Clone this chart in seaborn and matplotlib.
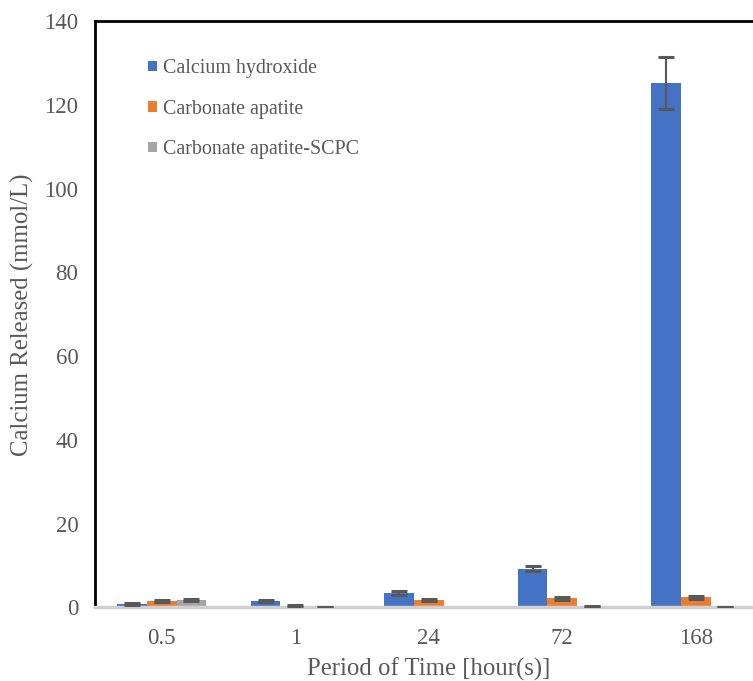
import matplotlib
matplotlib.use("Agg")
import matplotlib.pyplot as plt
import seaborn as sns
import pandas as pd
import numpy as np

categories = ["0.5", "1", "24", "72", "168"]
series = ["Calcium hydroxide", "Carbonate apatite", "Carbonate apatite-SCPC"]
ch_vals = [0.7, 1.45, 3.4, 9.25, 125.2]
ch_err = [0.25, 0.3, 0.4, 0.6, 6.2]
ca_vals = [1.5, 0.3, 1.75, 2.15, 2.45]
ca_err = [0.3, 0.15, 0.3, 0.3, 0.35]
scpc_vals = [1.75, 0.05, 0.0, 0.1, 0.05]
scpc_err = [0.3, 0.08, 0.0, 0.12, 0.06]
colors = ["#4472C4", "#ED7D31", "#A5A5A5"]

rows = []
for s, vals in zip(series, [ch_vals, ca_vals, scpc_vals]):
    for c, v in zip(categories, vals):
        rows.append({"Period": c, "Value": v, "Series": s})
df = pd.DataFrame(rows)

sns.set_theme(style="white")
plt.rcParams["font.family"] = ["Liberation Serif", "DejaVu Serif"]

fig = plt.figure(figsize=(7.53, 6.81), dpi=100)
ax = fig.add_axes([95 / 753, (681 - 607.3) / 681, 667.5 / 753, 586 / 681])

sns.barplot(data=df, x="Period", y="Value", hue="Series", order=categories,
            hue_order=series, palette=colors, width=0.663, gap=0,
            errorbar=None, saturation=1, ax=ax, linewidth=0)

for cont, errs in zip(ax.containers, [ch_err, ca_err, scpc_err]):
    xs = [p.get_x() + p.get_width() / 2 for p in cont.patches]
    hs = [p.get_height() for p in cont.patches]
    xs2 = [x for x, e in zip(xs, errs) if e > 0]
    hs2 = [h for h, e in zip(hs, errs) if e > 0]
    es2 = [e for e in errs if e > 0]
    ax.errorbar(xs2, hs2, yerr=es2, fmt="none", ecolor="#595959",
                elinewidth=1.5, capsize=5.5, capthick=2.2, zorder=5)

ax.set_xlim(-0.5, 4.5)
ax.set_ylim(0, 140)
ax.set_yticks(np.arange(0, 141, 20))
ax.tick_params(axis="both", length=0, labelsize=16.5, labelcolor="#595959")
ax.tick_params(axis="y", pad=12)
ax.tick_params(axis="x", pad=15)

ax.set_xlabel("Period of Time [hour(s)]", fontsize=17.8, color="#595959", labelpad=6)
ax.set_ylabel("Calcium Released (mmol/L)", fontsize=17.8, color="#595959", labelpad=7)

for side in ["left", "top"]:
    ax.spines[side].set_color("black")
    ax.spines[side].set_linewidth(2)
ax.spines["bottom"].set_color("#D0D0D0")
ax.spines["bottom"].set_linewidth(2.5)
ax.spines["right"].set_visible(False)

leg = ax.legend(loc="upper left", bbox_to_anchor=(0.053, 0.966), frameon=False,
                fontsize=14.4, labelcolor="#595959", handlelength=0.45,
                handleheight=0.45, handletextpad=0.3, labelspacing=1.07)

fig.savefig("out.png", dpi=100)
